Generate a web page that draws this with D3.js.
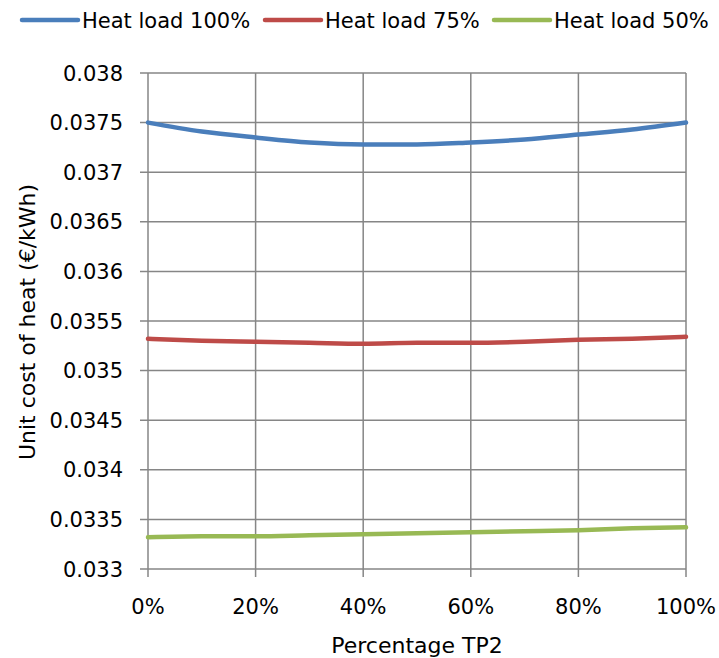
<!DOCTYPE html>
<html>
<head>
<meta charset="utf-8">
<script src="https://cdn.jsdelivr.net/npm/d3@7"></script>
<style>
  html, body { margin: 0; padding: 0; background: #fff; }
  svg { display: block; font-family: "DejaVu Sans", "Open Sans", sans-serif; }
</style>
</head>
<body>
<svg id="chart" width="719" height="658"></svg>
<script>
// ---- data ----
const percentTP2 = [0, 10, 20, 30, 40, 50, 60, 70, 80, 90, 100];
const heatLoad100 = [0.03750, 0.03741, 0.03735, 0.03730, 0.03728, 0.03728, 0.03730, 0.03733, 0.03738, 0.03743, 0.03750];
const heatLoad75  = [0.03532, 0.03530, 0.03529, 0.03528, 0.03527, 0.03528, 0.03528, 0.03529, 0.03531, 0.03532, 0.03534];
const heatLoad50  = [0.03332, 0.03333, 0.03333, 0.03334, 0.03335, 0.03336, 0.03337, 0.03338, 0.03339, 0.03341, 0.03342];
const seriesNames = ["Heat load 100%", "Heat load 75%", "Heat load 50%"];
const yTicks = [0.033, 0.0335, 0.034, 0.0345, 0.035, 0.0355, 0.036, 0.0365, 0.037, 0.0375, 0.038];
const xTicks = [0, 20, 40, 60, 80, 100];
const yTitle = "Unit cost of heat (€/kWh)";
const xTitle = "Percentage TP2";

const series = [
  { name: seriesNames[0], values: heatLoad100, color: "#4a7ebb" },
  { name: seriesNames[1], values: heatLoad75,  color: "#be4b48" },
  { name: seriesNames[2], values: heatLoad50,  color: "#98b954" }
];

const svg = d3.select("#chart");
const margin = { left: 148, right: 33, top: 73, bottom: 89 };
const W = 719, H = 658;
const x = d3.scaleLinear().domain([0, 100]).range([margin.left, W - margin.right]);
const y = d3.scaleLinear().domain([0.033, 0.038]).range([H - margin.bottom, margin.top]);

const gridColor = "#868686";
const fontSize = 21;
const titleSize = 22;

// gridlines
const grid = svg.append("g");
grid.selectAll("line.h").data(yTicks).join("line")
  .attr("x1", x(0) - 8).attr("x2", x(100))
  .attr("y1", d => y(d)).attr("y2", d => y(d))
  .attr("stroke", gridColor).attr("stroke-width", 1.5);
grid.selectAll("line.v").data(xTicks).join("line")
  .attr("x1", d => x(d)).attr("x2", d => x(d))
  .attr("y1", y(0.038)).attr("y2", y(0.033) + 8)
  .attr("stroke", gridColor).attr("stroke-width", 1.5);

// y tick labels
svg.append("g").selectAll("text").data(yTicks).join("text")
  .attr("x", x(0) - 25).attr("y", d => y(d))
  .attr("dy", "0.36em").attr("text-anchor", "end")
  .attr("font-size", fontSize).attr("fill", "#000")
  .text(d => String(+d.toFixed(4)));

// x tick labels
svg.append("g").selectAll("text").data(xTicks).join("text")
  .attr("x", d => x(d)).attr("y", 606)
  .attr("dy", "0.36em")
  .attr("text-anchor", "middle")
  .attr("font-size", fontSize).attr("fill", "#000")
  .text(d => d + "%");

// axis titles
svg.append("text")
  .attr("x", (x(0) + x(100)) / 2).attr("y", 645)
  .attr("dy", "0.36em")
  .attr("text-anchor", "middle").attr("font-size", titleSize)
  .text(xTitle);
svg.append("text")
  .attr("transform", `translate(27, ${(y(0.033) + y(0.038)) / 2 + 1}) rotate(-90)`)
  .attr("dy", "0.36em")
  .attr("text-anchor", "middle").attr("font-size", titleSize)
  .text(yTitle);

// lines
const line = d3.line()
  .x((d, i) => x(percentTP2[i]))
  .y(d => y(d))
  .curve(d3.curveMonotoneX);
svg.append("g").selectAll("path").data(series).join("path")
  .attr("d", d => line(d.values))
  .attr("fill", "none")
  .attr("stroke", d => d.color)
  .attr("stroke-width", 4.5)
  .attr("stroke-linecap", "round")
  .attr("stroke-linejoin", "round");

// legend
const legendX = [22, 265, 494];
const leg = svg.append("g").selectAll("g").data(series).join("g")
  .attr("transform", (d, i) => `translate(${legendX[i]}, 20)`);
leg.append("line")
  .attr("x1", 0).attr("x2", 56).attr("y1", 0).attr("y2", 0)
  .attr("stroke", d => d.color).attr("stroke-width", 4.5)
  .attr("stroke-linecap", "round");
leg.append("text")
  .attr("x", 60).attr("y", 0).attr("dy", "0.36em")
  .attr("font-size", fontSize)
  .text(d => d.name);
</script>
</body>
</html>
